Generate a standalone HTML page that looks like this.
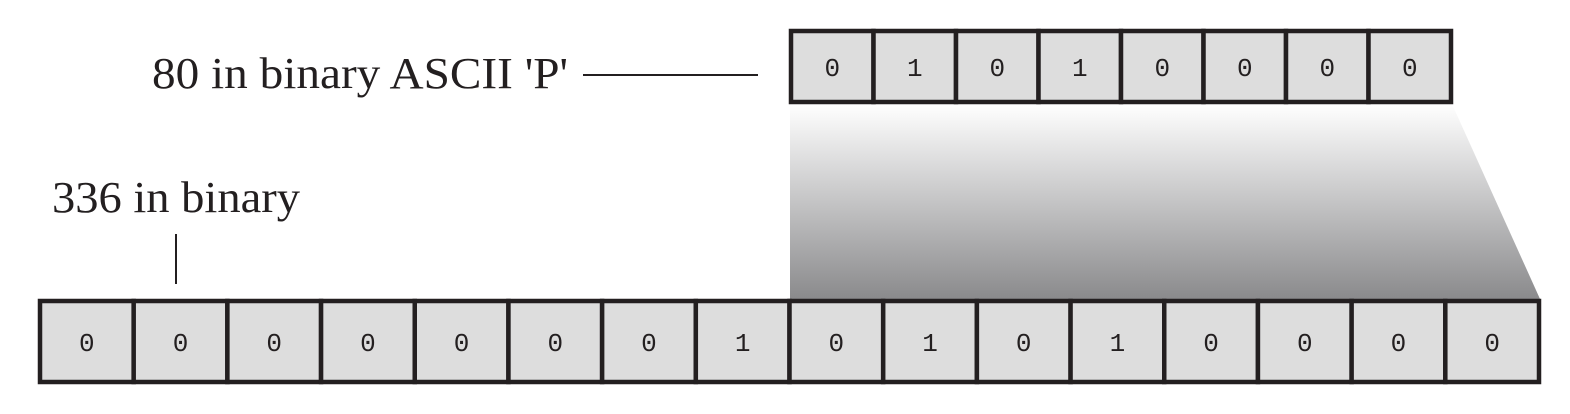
<!DOCTYPE html>
<html><head><meta charset="utf-8"><style>body{margin:0;background:#fff}</style></head>
<body>
<svg width="1570" height="409" xmlns="http://www.w3.org/2000/svg">
<defs><linearGradient id="g" x1="0" y1="0" x2="0" y2="1"><stop offset="0" stop-color="#fff"/><stop offset="1" stop-color="#8a8a8c"/></linearGradient></defs>
<polygon points="790,104 1452,104 1540,299 790,299" fill="url(#g)"/>
<text x="152" y="88" font-family="Liberation Serif, serif" font-size="44" textLength="416" lengthAdjust="spacingAndGlyphs" fill="#231f20">80 in binary ASCII 'P'</text>
<line x1="583" y1="75" x2="758" y2="75" stroke="#231f20" stroke-width="2"/>
<text x="52" y="212" font-family="Liberation Serif, serif" font-size="44" textLength="248" lengthAdjust="spacingAndGlyphs" fill="#231f20">336 in binary</text>
<line x1="176" y1="234" x2="176" y2="284" stroke="#231f20" stroke-width="2"/>
<g id="top"></g><g id="bot"></g>
</svg>
<script>
const topBits=[0,1,0,1,0,0,0,0];
const botBits=[0,0,0,0,0,0,0,1,0,1,0,1,0,0,0,0];
function row(gid,bits,x0,x1,y0,y1,fs,nm){
 const g=document.getElementById(gid),w=(x1-x0)/bits.length,ns="http://www.w3.org/2000/svg";
 bits.forEach((b,i)=>{
  const r=document.createElementNS(ns,'rect');
  
  
  r.setAttribute('x',x0+i*w);r.setAttribute('y',y0);r.setAttribute('width',w);r.setAttribute('height',y1-y0);
  r.setAttribute('fill','#dddddd');r.setAttribute('stroke','#231f20');r.setAttribute('stroke-width','4.5');
  g.appendChild(r);
  const t=document.createElementNS(ns,'text');
  
  
  t.setAttribute('x',x0+i*w+w/2);t.setAttribute('y',(y0+y1)/2+fs*0.36);
  t.setAttribute('text-anchor','middle');t.setAttribute('font-family','Liberation Mono, monospace');
  t.setAttribute('font-size',fs);t.setAttribute('fill','#231f20');t.textContent=b;
  g.appendChild(t);
 });
}
row('top',topBits,791,1451,31,102,26,'top-byte');
row('bot',botBits,40,1539,301,382,26,'word');
</script>
</body></html>
